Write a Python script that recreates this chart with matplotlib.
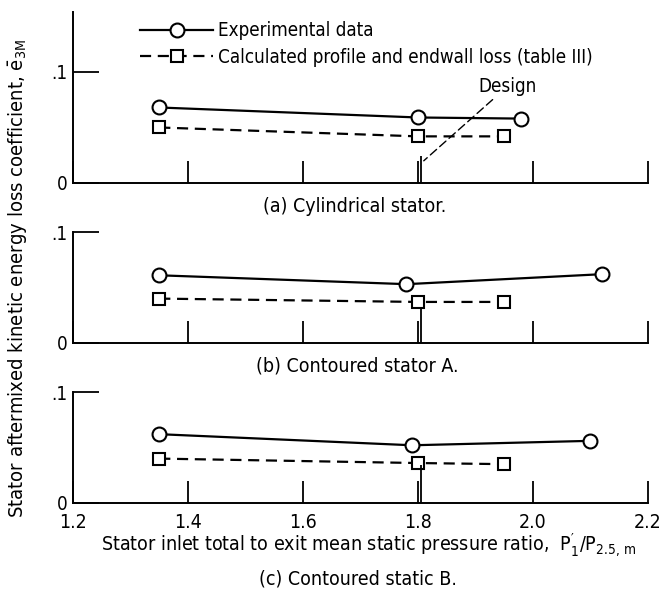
import numpy as np
import matplotlib
matplotlib.use("Agg")
import matplotlib.pyplot as plt

# pressure ratio / loss coefficient
ratio_exp_a = [1.35, 1.80, 1.98]
loss_exp_a = [0.068, 0.059, 0.058]
ratio_calc_a = [1.35, 1.80, 1.95]
loss_calc_a = [0.050, 0.042, 0.042]

ratio_exp_b = [1.35, 1.78, 2.12]
loss_exp_b = [0.061, 0.053, 0.062]
ratio_calc_b = [1.35, 1.80, 1.95]
loss_calc_b = [0.040, 0.037, 0.037]

ratio_exp_c = [1.35, 1.79, 2.10]
loss_exp_c = [0.062, 0.052, 0.056]
ratio_calc_c = [1.35, 1.80, 1.95]
loss_calc_c = [0.040, 0.036, 0.035]

design_ratio = 1.806
design_mark_top = [0.024, 0.031, 0.034]

x_ticks = [1.2, 1.4, 1.6, 1.8, 2.0, 2.2]
x_tick_labels = ["1.2", "1.4", "1.6", "1.8", "2.0", "2.2"]
captions = ["(a) Cylindrical stator.", "(b) Contoured stator A.", "(c) Contoured static B."]

plt.rcParams["font.family"] = ["DejaVu Sans"]
plt.rcParams["font.stretch"] = "condensed"
plt.rcParams["mathtext.default"] = "regular"

W, H = 663, 590
fig = plt.figure(figsize=(W / 100, H / 100), dpi=100)

def px_axes(bottom_px, top_px):
    return fig.add_axes([73 / W, (H - bottom_px) / H, 575 / W, (bottom_px - top_px) / H])

ax_a = px_axes(183, 12)
ax_b = px_axes(343, 232)
ax_c = px_axes(503, 392)

panels = [
    (ax_a, ratio_exp_a, loss_exp_a, ratio_calc_a, loss_calc_a, 0.154),
    (ax_b, ratio_exp_b, loss_exp_b, ratio_calc_b, loss_calc_b, 0.1),
    (ax_c, ratio_exp_c, loss_exp_c, ratio_calc_c, loss_calc_c, 0.1),
]

for i, (ax, rx, ly, rc, lc, top) in enumerate(panels):
    ax.plot(rx, ly, "-", color="black", lw=1.6, marker="o", ms=10,
            mfc="white", mec="black", mew=1.5, label="Experimental data")
    ax.plot(rc, lc, color="black", lw=1.6, ls=(0, (5, 3)), marker="s", ms=8.5,
            mfc="white", mec="black", mew=1.5,
            label="Calculated profile and endwall loss (table III)")
    ax.vlines(design_ratio, 0, design_mark_top[i], color="black", lw=1.3)
    ax.set_xlim(1.2, 2.2)
    ax.set_ylim(0, top)
    ax.spines["top"].set_visible(False)
    ax.spines["right"].set_visible(False)
    ax.spines["left"].set_linewidth(1.4)
    ax.spines["bottom"].set_linewidth(1.4)
    ax.set_xticks(x_ticks)
    ax.set_yticks([0, 0.1])
    ax.set_yticklabels(["0", ".1"])
    ax.tick_params(axis="x", direction="in", length=16, width=1.3)
    ax.tick_params(axis="y", direction="in", length=19, width=1.3, labelsize=13.5, pad=4)
    if ax is ax_c:
        ax.set_xticklabels(x_tick_labels, fontsize=14)
        ax.tick_params(axis="x", pad=7)
    else:
        ax.set_xticklabels([])
    ax.patch.set_alpha(0)

ax_a.legend(loc="upper left", bbox_to_anchor=(0.1165, 0.945), frameon=False,
            fontsize=13.5, handlelength=3.9, handletextpad=0.25, labelspacing=0.38,
            borderpad=0, borderaxespad=0)

ax_a.annotate("Design", xy=(design_ratio + 0.004, 0.020), xytext=(1.905, 0.087),
              fontsize=13.5, va="center", ha="left",
              arrowprops=dict(arrowstyle="-", lw=1.0, ls=(0, (6, 3)),
                              shrinkA=1, shrinkB=0, color="black"))

fig.text(355 / W, (H - 207) / H, captions[0], ha="center", va="center", fontsize=14)
fig.text(357 / W, (H - 366) / H, captions[1], ha="center", va="center", fontsize=14)
fig.text(358 / W, (H - 579) / H, captions[2], ha="center", va="center", fontsize=14)

fig.text(369 / W, (H - 545) / H,
         r"Stator inlet total to exit mean static pressure ratio,  $P_1'/P_{2.5,\,m}$",
         ha="center", va="center", fontsize=14)
fig.text(18 / W, (H - 278) / H,
         r"Stator aftermixed kinetic energy loss coefficient, $\bar{e}_{3M}$",
         ha="center", va="center", rotation=90, fontsize=14.5)

fig.savefig("out.png", dpi=100)
